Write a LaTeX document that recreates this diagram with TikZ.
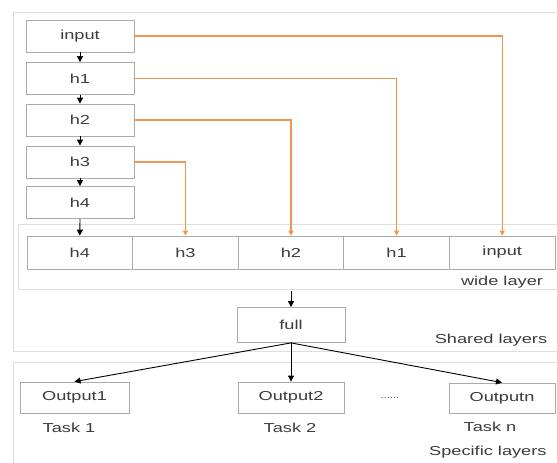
\documentclass[tikz,border=0pt]{standalone}
\usepackage{fontspec}
\setmainfont{Liberation Sans}[FakeStretch=1.4]
\usetikzlibrary{arrows.meta}
\definecolor{boxgray}{RGB}{170,170,170}
\definecolor{framegray}{RGB}{222,222,222}
\definecolor{linkorange}{RGB}{238,150,80}
\definecolor{txt}{RGB}{60,60,60}
\begin{document}
\begin{tikzpicture}[x=1pt,y=-1pt,
  every node/.style={font=\fontsize{13}{14}\selectfont, text=txt, inner sep=0pt},
  layerbox/.style={draw=boxgray, line width=0.8pt, fill=white, minimum width=108pt, minimum height=32pt},
  widecell/.style={draw=boxgray, line width=0.8pt, fill=white, minimum width=105.6pt, minimum height=33pt},
  frame/.style={draw=framegray, line width=1pt},
  blk/.style={draw=black, line width=0.9pt, -{Triangle[length=6pt,width=6pt]}},
  org/.style={draw=linkorange, line width=1.1pt, -{Triangle[length=5pt,width=5pt]}},
  lbl/.style={}
]
\useasboundingbox (0,0) rectangle (557,463);
\clip (0,0) rectangle (557,463);
\fill[white] (0,0) rectangle (557,463);
% frames
\draw[frame] (13,12) rectangle (575,351);
\draw[frame] (18,224) rectangle (575,289);
\draw[frame] (13,362) rectangle (575,490);
% left column
\node[layerbox] (in0) at (80,36) {input};
\node[layerbox] (h1) at (80,78.5) {h1};
\node[layerbox] (h2) at (80,120) {h2};
\node[layerbox] (h3) at (80,162) {h3};
\node[layerbox] (h4) at (80,202.5) {h4};
% wide layer
\node[widecell] (w4) at (79.8,252.5) {h4};
\node[widecell] (w3) at (185.4,252.5) {h3};
\node[widecell] (w2) at (291,252.5) {h2};
\node[widecell] (w1) at (396.6,252.5) {h1};
\node[widecell] (wi) at (502.2,252.5) {input};
\node[lbl] (wl) at (502,282) {wide layer};
% full
\coordinate (wb) at (291,291);
\node[layerbox, minimum height=35pt] (full) at (291,325) {full};
\node[lbl] (sl) at (491,340) {Shared layers};
% outputs
\node[layerbox, minimum width=109pt, minimum height=31pt] (o1) at (74.5,397.5) {Output1};
\node[layerbox, minimum width=106pt, minimum height=31pt] (o2) at (291,397.5) {Output2};
\node[layerbox, minimum width=106pt, minimum height=30pt] (on) at (502,398) {Outputn};
\node[lbl, font=\fontsize{8}{9}\selectfont] (dots) at (390,398) {......};
\node[lbl] (t1) at (69,428) {Task 1};
\node[lbl] (t2) at (290,428) {Task 2};
\node[lbl] (tn) at (490,427) {Task n};
\node[lbl, anchor=west] (spl) at (429,452) {Specific layers};
% black arrows
\draw[blk] (in0.south) -- (h1.north);
\draw[blk] (h1.south) -- (h2.north);
\draw[blk] (h2.south) -- (h3.north);
\draw[blk] (h3.south) -- (h4.north);
\draw[blk] (h4.south) -- (w4.north);
\draw[blk] (wb) -- (full.north);
\draw[blk] (full.south) -- (o1.north);
\draw[blk] (full.south) -- (o2.north);
\draw[blk] (full.south) -- (on.north);
% orange skip links
\draw[org] (in0.east) -| (wi.north);
\draw[org] (h1.east) -| (w1.north);
\draw[org] (h2.east) -| (w2.north);
\draw[org] (h3.east) -| (w3.north);
\end{tikzpicture}
\end{document}
